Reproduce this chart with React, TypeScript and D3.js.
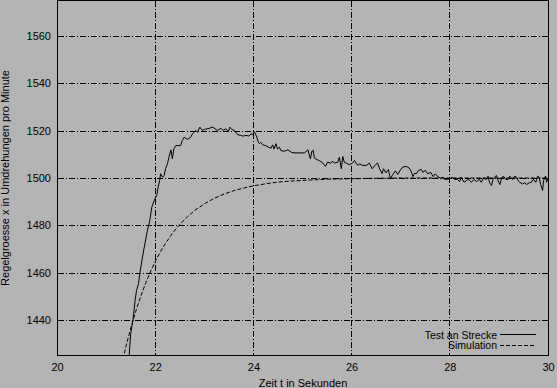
import React from "react";
import * as d3 from "d3";

// measured response "Test an Strecke"
const measTime = [
  21.46, 21.49, 21.54, 21.58, 21.61, 21.65, 21.68, 21.73, 21.78, 21.83, 21.88, 21.92, 21.97,
  22.02, 22.05, 22.08, 22.1, 22.14, 22.17, 22.2, 22.24, 22.27, 22.31, 22.34, 22.37, 22.41,
  22.51, 22.54, 22.58, 22.65, 22.71, 22.75, 22.82, 22.85, 22.9, 22.95, 22.99, 23.09, 23.16,
  23.21, 23.26, 23.33, 23.37, 23.43, 23.48, 23.51, 23.55, 23.6, 23.63, 23.67, 23.73, 23.78,
  23.84, 23.9, 23.94, 23.97, 24.01, 24.03, 24.06, 24.09, 24.11, 24.14, 24.18, 24.24, 24.3,
  24.35, 24.38, 24.41, 24.45, 24.48, 24.52, 24.55, 24.62, 24.69, 24.76, 24.82, 25.03, 25.1,
  25.15, 25.18, 25.21, 25.23, 25.29, 25.33, 25.4, 25.46, 25.5, 25.56, 25.61, 25.64, 25.71,
  25.74, 25.78, 25.81, 25.84, 25.89, 25.94, 26.01, 26.05, 26.08, 26.12, 26.15, 26.22, 26.29,
  26.35, 26.41, 26.48, 26.52, 26.56, 26.61, 26.64, 26.69, 26.74, 26.78, 26.83, 26.88, 26.93,
  26.98, 27.03, 27.1, 27.16, 27.2, 27.24, 27.27, 27.31, 27.35, 27.41, 27.44, 27.49, 27.54,
  27.6, 27.65, 27.69, 27.75, 27.8, 27.85, 27.88, 27.94, 27.99, 28.03, 28.09, 28.14, 28.19,
  28.22, 28.28, 28.33, 28.37, 28.43, 28.48, 28.53, 28.59, 28.63, 28.68, 28.73, 28.77, 28.8,
  28.84, 28.87, 28.9, 28.94, 28.97, 29.01, 29.04, 29.08, 29.13, 29.18, 29.21, 29.27, 29.31,
  29.35, 29.38, 29.41, 29.47, 29.52, 29.55, 29.61, 29.65, 29.69, 29.74, 29.78, 29.81, 29.84,
  29.88, 29.9, 29.94, 29.96, 29.99, 30.0,
];
const measValue = [
  1425, 1434.2, 1440.5, 1448.2, 1452.5, 1455.4, 1460.2, 1466.5, 1472.2, 1477.8, 1482, 1487.7, 1490.5,
  1492.6, 1496.1, 1498.9, 1501.8, 1500.3, 1501, 1503.9, 1506, 1508.8, 1511.9, 1508.1, 1512.3, 1513.7,
  1513.7, 1515.8, 1517.2, 1516.3, 1517.2, 1518.7, 1520.1, 1519.3, 1521.5, 1520.1, 1520.5, 1521, 1521.5,
  1520.8, 1520.1, 1521, 1520.1, 1520.8, 1519.6, 1521.5, 1520.5, 1520.1, 1519.3, 1518.3, 1518, 1517.7,
  1518, 1517.7, 1518.7, 1518.3, 1519.6, 1518.7, 1517.2, 1515.1, 1514.5, 1515.1, 1514, 1513.7, 1513,
  1512.6, 1514, 1512.3, 1514.5, 1512.3, 1513, 1511.6, 1511.3, 1511.9, 1510.9, 1510.6, 1510.6, 1511.9,
  1508.1, 1511.3, 1511.6, 1508.5, 1507.7, 1507.4, 1506.4, 1504.9, 1506.7, 1506.3, 1507.1, 1506.3, 1506.7,
  1508.8, 1503.9, 1509.1, 1506.7, 1506.2, 1505.6, 1506.3, 1507.4, 1506.3, 1505.3, 1506, 1505.3, 1505.3,
  1506.3, 1503.9, 1505.7, 1506.3, 1503.9, 1501.9, 1503.9, 1502.2, 1503.6, 1499.7, 1501.5, 1503, 1501.5,
  1503.3, 1504.6, 1504.9, 1504.3, 1502.9, 1500.6, 1502, 1501.8, 1503.2, 1503.6, 1502.4, 1503.2, 1501.8,
  1502.4, 1500.6, 1501.7, 1500.6, 1499.9, 1500.3, 1499.5, 1499.4, 1499.5, 1500.3, 1499.4, 1499.5, 1498.5,
  1500.3, 1498.2, 1499, 1499.4, 1498.2, 1499.4, 1498.5, 1499.4, 1498.2, 1500, 1499.3, 1500.8, 1498,
  1496.8, 1499.4, 1500.3, 1501.1, 1499, 1497.2, 1499.7, 1500.8, 1499.4, 1499.4, 1500.8, 1499.4, 1500.8,
  1500.3, 1499, 1498.2, 1497.5, 1498, 1497.2, 1498, 1498.2, 1499.4, 1498.2, 1500.8, 1500.3, 1497.2,
  1494.7, 1499, 1500.8, 1498.2, 1499.7, 1498.5,
];

// simulated response "Simulation"
const simTime = [
  21.3, 21.4, 21.5, 21.6, 21.7, 21.8, 21.9, 22.0, 22.1, 22.2, 22.35, 22.5, 22.65, 22.8, 23.0,
  23.2, 23.4, 23.6, 23.8, 24.0, 24.25, 24.5, 24.75, 25.0, 25.5, 26.0, 26.5, 27.0, 28.0, 29.0, 30.0,
];
const simValue = [
  1421, 1429.3, 1437.1, 1444.1, 1450.3, 1455.8, 1460.7, 1465.1, 1469, 1472.4, 1476.9, 1480.6, 1483.7,
  1486.4, 1489.2, 1491.5, 1493.3, 1494.7, 1495.8, 1496.7, 1497.6, 1498.3, 1498.7, 1499.0, 1499.5,
  1499.7, 1499.9, 1500, 1500, 1500, 1500,
];

const xTicks = [20, 22, 24, 26, 28, 30];
const yTicks = [1440, 1460, 1480, 1500, 1520, 1540, 1560];
const legendLabels = ["Test an Strecke", "Simulation"];

const W = 557;
const H = 388;
const left = 57.5;
const right = 548.5;
const top = 0.5;
const bottom = 355.5;
const font = "'Liberation Sans', Arial, Helvetica, sans-serif";
const grid = "6,2,1,2";

export default function App() {
  const x = d3.scaleLinear().domain([20, 30]).range([left, right]);
  const y = d3.scaleLinear().domain([1425, 1575]).range([bottom, top]);

  const line = d3
    .line<[number, number]>()
    .x((d) => x(d[0]))
    .y((d) => y(d[1]));

  const meas = measTime.map((t, i) => [t, measValue[i]] as [number, number]);
  const sim = simTime.map((t, i) => [t, simValue[i]] as [number, number]);

  return (
    <svg width={W} height={H} style={{ position: "absolute", left: 0, top: 0 }} fontFamily={font}>
      <rect width={W} height={H} fill="#b4b4b4" />
      <defs>
        <clipPath id="plot">
          <rect x={left} y={top} width={right - left} height={bottom - top} />
        </clipPath>
      </defs>

      {/* grid */}
      <g stroke="#000" strokeWidth={1} strokeDasharray={grid} fill="none" shapeRendering="crispEdges">
        {xTicks.slice(1, -1).map((t) => (
          <line key={t} x1={Math.round(x(t)) - 0.5} x2={Math.round(x(t)) - 0.5} y1={top} y2={bottom} />
        ))}
        {yTicks.map((t) => (
          <line key={t} x1={left} x2={right} y1={Math.round(y(t)) + 0.5} y2={Math.round(y(t)) + 0.5} />
        ))}
      </g>

      {/* curves */}
      <g clipPath="url(#plot)" fill="none" stroke="#000" strokeWidth={1}>
        <path d={line(sim) ?? ""} strokeDasharray="4,2" />
        <path d={line(meas) ?? ""} />
      </g>

      {/* border */}
      <rect
        x={left}
        y={top}
        width={right - left}
        height={bottom - top}
        fill="none"
        stroke="#000"
        shapeRendering="crispEdges"
      />

      {/* tick labels */}
      <g fontSize={11} fill="#000">
        {yTicks.map((t) => (
          <text key={t} x={51} y={y(t) + 4} textAnchor="end">
            {t}
          </text>
        ))}
        {xTicks.map((t) => (
          <text key={t} x={x(t)} y={371} textAnchor="middle">
            {t}
          </text>
        ))}
        <text x={(left + right) / 2} y={387} textAnchor="middle">
          Zeit t in Sekunden
        </text>
        <text transform={`translate(9,${178}) rotate(-90)`} textAnchor="middle">
          Regelgroesse x in Umdrehungen pro Minute
        </text>
      </g>

      {/* legend */}
      <g fontSize={10.5}>
        {legendLabels.map((l, i) => (
          <g key={l} transform={`translate(0,${334.5 + i * 10.5})`}>
            <text x={497} y={4} textAnchor="end">
              {l}
            </text>
            <line
              x1={500}
              x2={536}
              stroke="#000"
              shapeRendering="crispEdges"
              strokeDasharray={i === 1 ? "4,2" : undefined}
            />
          </g>
        ))}
      </g>
    </svg>
  );
}
